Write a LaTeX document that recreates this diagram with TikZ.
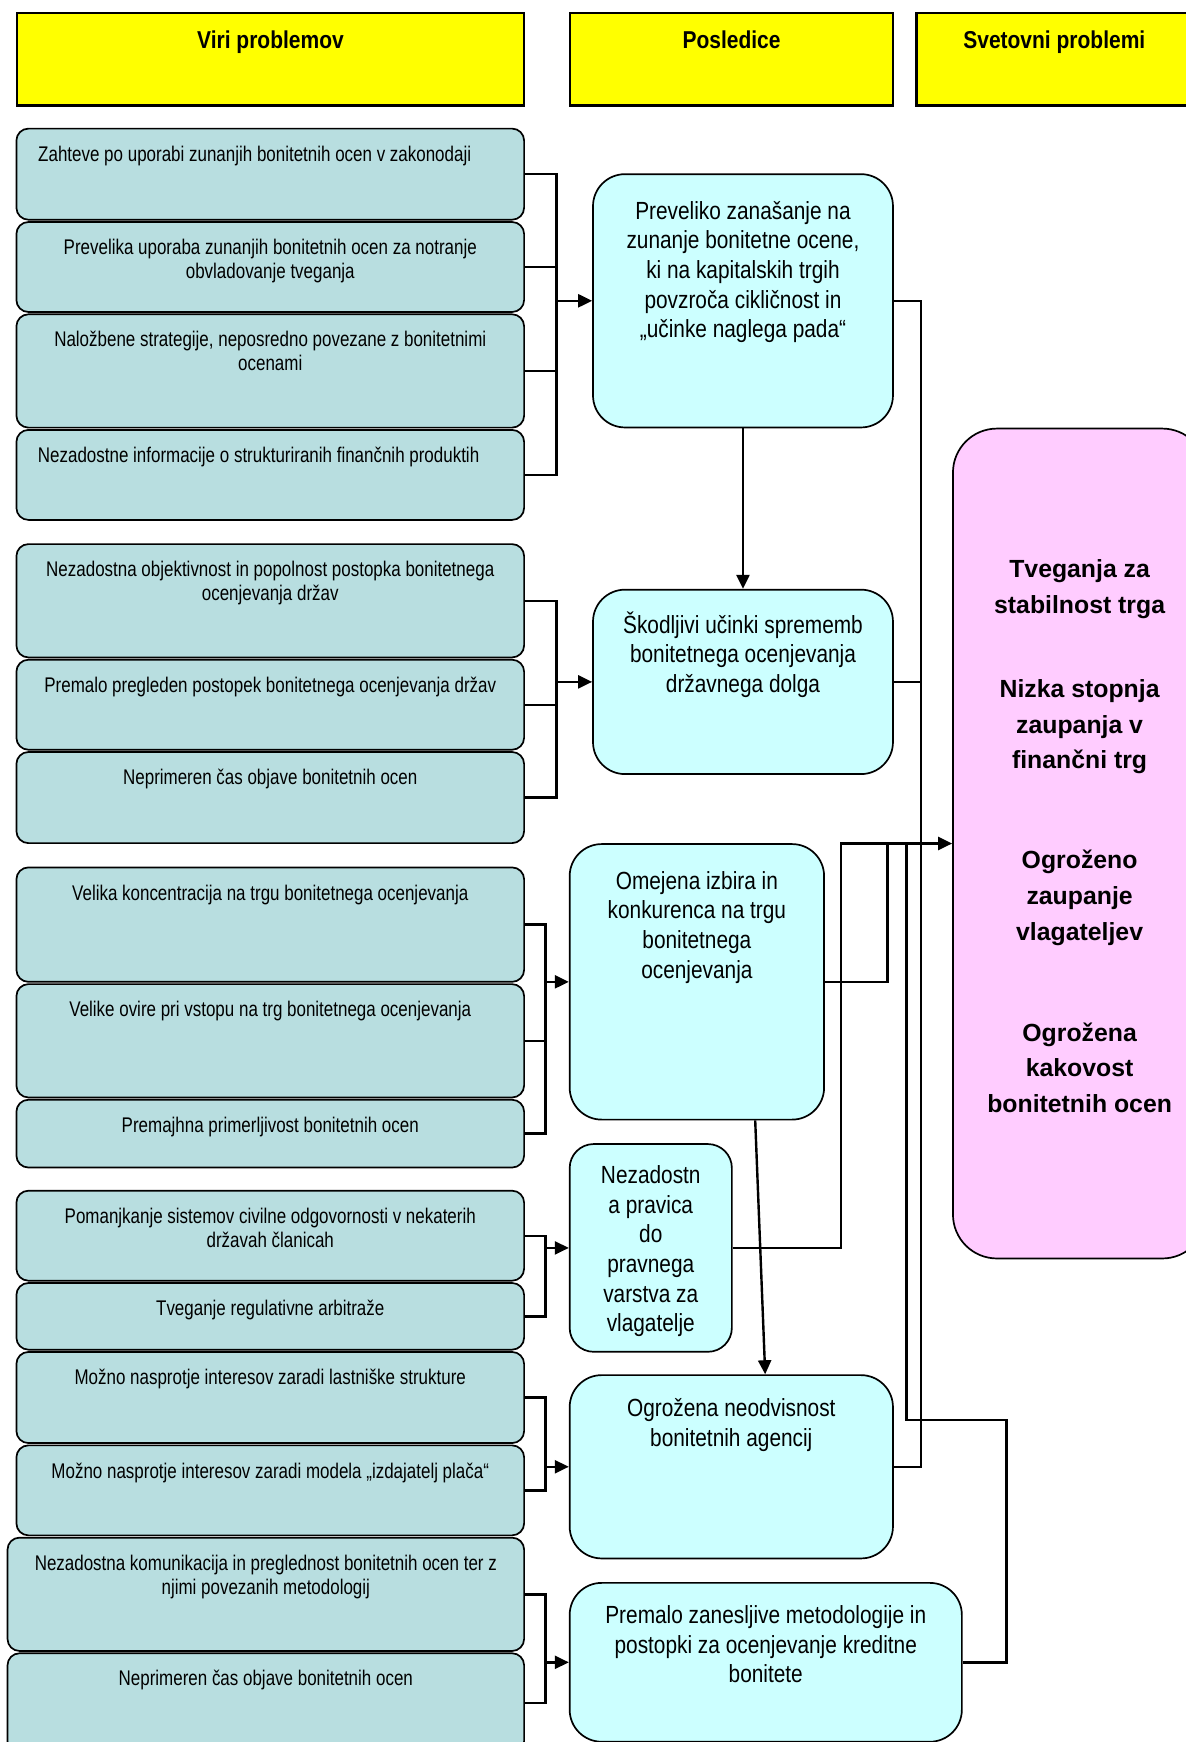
\documentclass[tikz,border=0pt]{standalone}
\usepackage{fontspec}
\setmainfont{Liberation Sans}
\newfontfamily\srcfont{Liberation Sans}[FakeStretch=0.8]
\newfontfamily\efffont{Liberation Sans}[FakeStretch=0.84]
\newfontfamily\headfont{Liberation Sans}[FakeStretch=0.86]
\newfontfamily\riskfont{Liberation Sans}
\usepackage{tikz}
\usetikzlibrary{positioning}
\usetikzlibrary{positioning,arrows.meta}

\definecolor{srcfill}{RGB}{184,222,224}
\definecolor{efffill}{RGB}{204,255,255}
\definecolor{riskfill}{RGB}{255,204,255}
\definecolor{headfill}{RGB}{255,255,0}

\newlength{\px}
\setlength{\px}{0.5553pt}
% text at the top of a box: width, height, top padding, text
\newcommand{\intext}[4]{\begin{minipage}[t][#2][t]{#1}\centering\vspace*{#3}\strut #4\end{minipage}}

\begin{document}
\begin{tikzpicture}[
    x=\px, y=-\px,
    head/.style={draw=black, line width=1.1pt, fill=headfill, inner sep=0pt, anchor=north west, font=\headfont\bfseries\fontsize{12.2}{14.6}\selectfont},
    src/.style={draw=black, line width=0.85pt, fill=srcfill, rounded corners=6pt, inner sep=0pt, font=\srcfont\fontsize{10.6}{11.9}\selectfont},
    eff/.style={draw=black, line width=0.85pt, fill=efffill, rounded corners=16pt, inner sep=0pt, anchor=north west, font=\efffont\fontsize{12.4}{14.8}\selectfont},
    risk/.style={draw=black, line width=0.85pt, fill=riskfill, rounded corners=22pt, inner sep=0pt, anchor=north west, font=\riskfont\bfseries\fontsize{12.4}{17.8}\selectfont},
    link/.style={draw=black, line width=1.2pt},
    arr/.style={link, -{Triangle[length=7pt, width=6.5pt]}}
  ]
    \useasboundingbox (0,0) rectangle (1067,1568);

    % column heads
    \node[head] (h1) at (14,11) {\intext{457\px}{83\px}{7.5pt}{Viri problemov}};
    \node[head] (h2) at (512,11) {\intext{291\px}{83\px}{7.5pt}{Posledice}};
    \node[head] (h3) at (824,11) {\intext{248\px}{83\px}{7.5pt}{Svetovni problemi}};

    % sources of the problems
    \node[src, anchor=north west] (s1) at (14,115) {\intext{457\px}{82\px}{8pt}{Zahteve po uporabi zunanjih bonitetnih ocen v zakonodaji\hspace*{28\px}}};
    \node[src, below=0.3pt of s1] (s2) {\intext{457\px}{81\px}{8pt}{Prevelika uporaba zunanjih bonitetnih ocen za notranje\\obvladovanje tveganja}};
    \node[src, below=0.3pt of s2] (s3) {\intext{457\px}{102\px}{8pt}{Naložbene strategije, neposredno povezane z bonitetnimi\\ocenami}};
    \node[src, below=0.3pt of s3] (s4) {\intext{457\px}{81\px}{8pt}{Nezadostne informacije o strukturiranih finančnih produktih\hspace*{21\px}}};

    \node[src, anchor=north west] (s5) at (14,489) {\intext{457\px}{102\px}{8pt}{Nezadostna objektivnost in popolnost postopka bonitetnega\\ocenjevanja držav}};
    \node[src, below=0.3pt of s5] (s6) {\intext{457\px}{81\px}{8pt}{Premalo pregleden postopek bonitetnega ocenjevanja držav}};
    \node[src, below=0.3pt of s6] (s7) {\intext{457\px}{82\px}{8pt}{Neprimeren čas objave bonitetnih ocen}};

    \node[src, anchor=north west] (s8) at (14,780) {\intext{457\px}{103\px}{8pt}{Velika koncentracija na trgu bonitetnega ocenjevanja}};
    \node[src, below=0.3pt of s8] (s9) {\intext{457\px}{102\px}{8pt}{Velike ovire pri vstopu na trg bonitetnega ocenjevanja}};
    \node[src, below=0.3pt of s9] (s10) {\intext{457\px}{61\px}{8pt}{Premajhna primerljivost bonitetnih ocen}};

    \node[src, anchor=north west] (s11) at (14,1071) {\intext{457\px}{81\px}{8pt}{Pomanjkanje sistemov civilne odgovornosti v nekaterih\\državah članicah}};
    \node[src, below=0.3pt of s11] (s12) {\intext{457\px}{60\px}{8pt}{Tveganje regulativne arbitraže}};
    \node[src, below=0.3pt of s12] (s13) {\intext{457\px}{82\px}{8pt}{Možno nasprotje interesov zaradi lastniške strukture}};
    \node[src, below=0.3pt of s13] (s14) {\intext{457\px}{81\px}{8pt}{Možno nasprotje interesov zaradi modela „izdajatelj plača“}};
    \node[src, anchor=north east] (s15) at ([yshift=-0.3pt]s14.south east) {\intext{465\px}{102\px}{8pt}{Nezadostna komunikacija in preglednost bonitetnih ocen ter z\\njimi povezanih metodologij}};
    \node[src, below=0.3pt of s15] (s16) {\intext{465\px}{90\px}{8pt}{Neprimeren čas objave bonitetnih ocen}};

    % consequences
    \node[eff] (m1) at (533,156) {\intext{270\px}{228\px}{12.2pt}{Preveliko zanašanje na\\zunanje bonitetne ocene,\\ki na kapitalskih trgih\\povzroča cikličnost in\\„učinke naglega pada“}};
    \node[eff] (m2) at (533,530) {\intext{270\px}{166\px}{11pt}{Škodljivi učinki sprememb\\bonitetnega ocenjevanja\\državnega dolga}};
    \node[eff] (m3) at (512,759) {\intext{229\px}{248\px}{12.2pt}{Omejena izbira in\\konkurenca na trgu\\bonitetnega\\ocenjevanja}};
    \node[eff, rounded corners=12pt] (m4) at (512,1029) {\intext{146\px}{187\px}{9.4pt}{Nezadostn\\a pravica\\do\\pravnega\\varstva za\\vlagatelje}};
    \node[eff] (m5) at (512,1237) {\intext{291\px}{165\px}{10.5pt}{Ogrožena neodvisnost\\bonitetnih agencij}};
    \node[eff] (m6) at (512,1424) {\intext{353\px}{143\px}{9.9pt}{Premalo zanesljive metodologije in\\postopki za ocenjevanje kreditne\\bonitete}};

    % world problems
    \node[risk] (world) at (857,385) {\intext{228\px}{747\px}{62pt}{Tveganja za\\stabilnost trga\\[24.4pt]Nizka stopnja\\zaupanja v\\finančni trg\\[32.2pt]Ogroženo\\zaupanje\\vlagateljev\\[32.7pt]Ogrožena\\kakovost\\bonitetnih ocen}};

    \coordinate (busA) at (501,0);
    \coordinate (busC) at (491,0);
    \coordinate (rb) at (829,0);
    \coordinate (bx1) at (757,0);
    \coordinate (bx2) at (799,0);
    \coordinate (bx3) at (816,0);
    \coordinate (loop) at (906,1278);

    % sources -> consequences
    \draw[link] (s1.east) -| (busA |- s4.east) -- (s4.east);
    \draw[link] (s2.east) -- (s2.east -| busA);
    \draw[link] (s3.east) -- (s3.east -| busA);
    \draw[arr] (busA |- m1.west) -- (m1.west);

    \draw[link] (s5.east) -| (busA |- s7.east) -- (s7.east);
    \draw[link] (s6.east) -- (s6.east -| busA);
    \draw[arr] (busA |- m2.west) -- (m2.west);

    \draw[link] (s8.east) -| (busC |- s10.east) -- (s10.east);
    \draw[link] (s9.east) -- (s9.east -| busC);
    \draw[arr] (busC |- m3.west) -- (m3.west);

    \draw[link] (s11.east) -| (busC |- s12.east) -- (s12.east);
    \draw[arr] (busC |- m4.west) -- (m4.west);

    \draw[link] (s13.east) -| (busC |- s14.east) -- (s14.east);
    \draw[arr] (busC |- m5.west) -- (m5.west);

    \draw[link] (s15.east) -| (busC |- s16.east) -- (s16.east);
    \draw[arr] (busC |- m6.west) -- (m6.west);

    % consequences -> world problems
    \draw[arr] (m1.south) -- (m2.north);
    \draw[arr] ([xshift=52.5\px]m3.south) -- ([xshift=30.5\px]m5.north);
    \draw[link] (m1.east) -| (rb |- m5.east) -- (m5.east);
    \draw[link] (m2.east) -- (m2.east -| rb);
    \draw[arr] (m4.east) -| (bx1 |- world.west) -- (world.west);
    \draw[link] (m3.east) -| (bx2 |- world.west);
    \draw[link] (m6.east) -| (loop) -| (bx3 |- world.west);
  \end{tikzpicture}
\end{document}
